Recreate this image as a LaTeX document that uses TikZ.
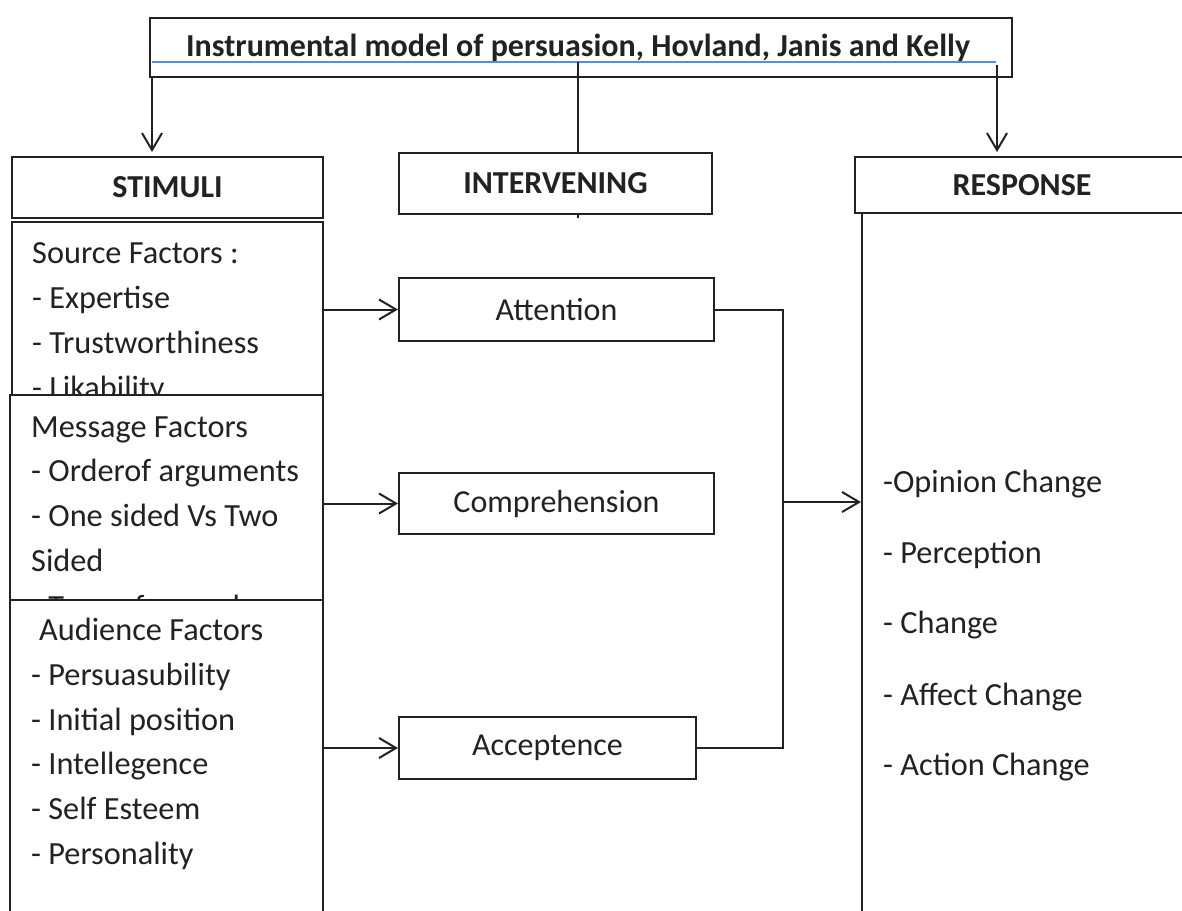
\documentclass[tikz,border=0pt]{standalone}
\usepackage{fontspec}
\setmainfont{Carlito}
\usetikzlibrary{arrows.meta}
\definecolor{ln}{HTML}{222222}
\definecolor{bl}{HTML}{5B8FD4}
\begin{document}
\begin{tikzpicture}[x=1pt,y=-1pt,
  box/.style={draw=ln,line width=2pt,fill=white,inner sep=0pt,rectangle,text=ln},
  hdr/.style={font=\fontsize{32}{38}\selectfont\bfseries},
  ttl/.style={font=\fontsize{32}{38}\selectfont\bfseries},
  lbl/.style={font=\fontsize{32}{38}\selectfont},
  txt/.style={font=\fontsize{32.3}{38}\selectfont,text=ln,anchor=base west,inner sep=0pt},
  conn/.style={draw=ln,line width=2pt},
  arr/.style={conn,-{Straight Barb[length=17pt,width=20pt]}},
  blueline/.style={draw=bl,line width=2pt}]
\useasboundingbox (0,0) rectangle (1182,910);
\clip (0,0) rectangle (1182,910);
\fill[white] (0,0) rectangle (1182,910);

% title
\node[box,ttl,minimum width=862pt,minimum height=59pt] (title) at (581,47.5) {};
\node[ttl,text=ln,anchor=base,inner sep=0pt] (titletxt) at (578,56)
  {Instrumental model of persuasion, Hovland, Janis and Kelly};
\coordinate (bL) at (152,62);
\coordinate (bR) at (996,62);
\draw[blueline] (bL) -- (bR);

% centre line (with small tick below INTERVENING)
\coordinate (tc) at (578,62);
\coordinate (tick) at (578,218);
\draw[conn] (tc) -- (tick);

% arrows from title
\coordinate (la) at (152,77);
\coordinate (lat) at (152,152);
\coordinate (ra) at (997,65);
\coordinate (rat) at (997,152);
\draw[arr] (la) -- (lat);
\draw[arr] (ra) -- (rat);

% header boxes
\node[box,hdr,minimum width=311pt,minimum height=61pt] (stim) at (167.5,187.5) {STIMULI};
\node[box,hdr,minimum width=313pt,minimum height=61pt] (interv) at (555.5,183.5) {INTERVENING};
\node[box,hdr,minimum width=334pt,minimum height=56pt] (resp) at (1022,185) {RESPONSE};

% stimuli boxes
\node[box,minimum width=311pt,minimum height=200pt] (src) at (167.5,322) {};
\node[txt] (s1) at (32,263) {Source Factors :};
\node[txt] (s2) at (32,308) {- Expertise};
\node[txt] (s3) at (32,353) {- Trustworthiness};
\node[txt] (s4) at (32,398) {- Likability};

\node[box,minimum width=313pt,minimum height=205pt] (msg) at (166.5,497.5) {};
\node[txt] (m1) at (31,437) {Message Factors};
\node[txt] (m2) at (31,481) {- Orderof arguments};
\node[txt] (m3) at (31,526) {- One sided Vs Two};
\node[txt] (m4) at (31,571) {Sided};
\node[txt] (m5) at (31,617) {- Type of appeal};

\node[box,minimum width=313pt,minimum height=330pt] (aud) at (166.5,765) {};
\node[txt] (a1) at (39,640) {Audience Factors};
\node[txt] (a2) at (31,685) {- Persuasubility};
\node[txt] (a3) at (31,730) {- Initial position};
\node[txt] (a4) at (31,774) {- Intellegence};
\node[txt] (a5) at (31,819) {- Self Esteem};
\node[txt] (a6) at (31,864) {- Personality};

% intervening boxes
\node[box,lbl,minimum width=315pt,minimum height=63pt] (att) at (556.5,309.5) {Attention};
\node[box,lbl,minimum width=315pt,minimum height=61pt] (comp) at (556.5,503.5) {Comprehension};
\node[box,lbl,minimum width=297pt,minimum height=62pt] (acc) at (547.5,748) {Acceptence};

% response box
\node[box,minimum width=327pt,minimum height=717pt] (rbox) at (1025.5,571.5) {};
\node[txt] (r1) at (883,492) {-Opinion Change};
\node[txt] (r2) at (883,563) {- Perception};
\node[txt] (r3) at (883,633) {- Change};
\node[txt] (r4) at (883,705) {- Affect Change};
\node[txt] (r5) at (883,775) {- Action Change};

% connectors
\draw[arr] (src.east |- att.west) -- (att.west);
\draw[arr] (msg.east |- comp.west) -- (comp.west);
\draw[arr] (aud.east |- acc.west) -- (acc.west);
\coordinate (jx) at (783,0);
\coordinate (jm) at (783,502);
\draw[conn] (att.east) -- (att.east -| jx) -- (acc.east -| jx) -- (acc.east);
\draw[arr] (jm) -- (jm -| rbox.west);
\end{tikzpicture}
\end{document}
